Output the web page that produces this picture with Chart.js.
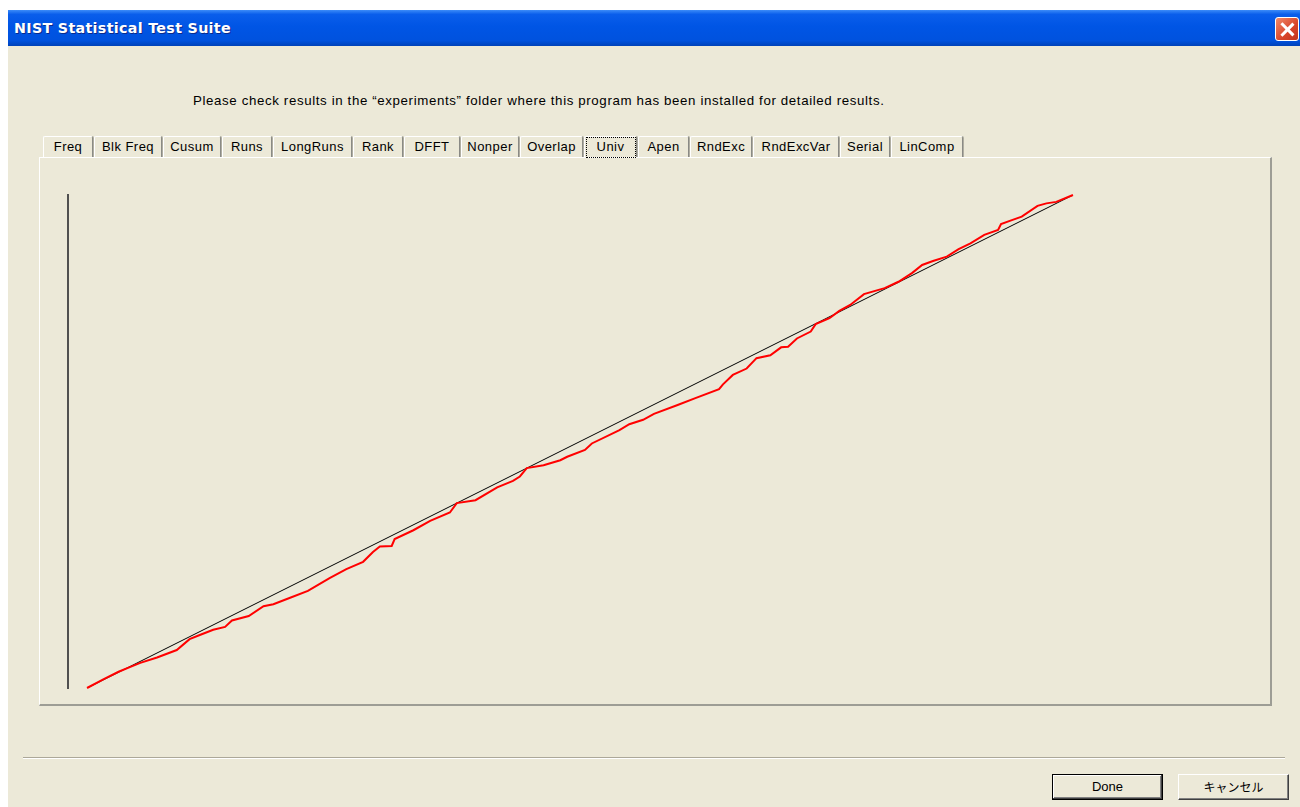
<!DOCTYPE html>
<html>
<head>
<meta charset="utf-8">
<script src="https://cdn.jsdelivr.net/npm/chart.js@4/dist/chart.umd.min.js"></script>
<style>
  html,body{margin:0;padding:0;background:#fff;}
  body{width:1300px;height:807px;position:relative;overflow:hidden;font-family:"Liberation Sans",Arial,sans-serif;}
  #win{position:absolute;left:8px;top:10px;width:1300px;height:797px;background:#ECE9D8;}
  #title{position:absolute;left:8px;top:10px;width:1300px;height:36px;
    background:linear-gradient(#3C8CF8 0%,#0A5EEB 12%,#0055E5 45%,#0052DE 85%,#0042B8 100%);}
  #title span{position:absolute;left:6px;top:10px;color:#fff;font:bold 14.3px "DejaVu Sans",sans-serif;
    text-shadow:1px 1px 0 #0B2A8A;letter-spacing:0.3px;}
  #close{position:absolute;left:1275px;top:17px;width:24px;height:24px;border:1px solid #fff;border-radius:3px;
    background:linear-gradient(135deg,#F08A6A,#D8452A 60%,#C0361E);box-sizing:border-box;}
  #close:before,#close:after{content:"";position:absolute;left:10px;top:3px;width:2.5px;height:17px;background:#fff;}
  #close:before{transform:rotate(45deg);} #close:after{transform:rotate(-45deg);}
  .txt{position:absolute;font-size:13.3px;letter-spacing:0.62px;color:#000;white-space:nowrap;}
  .tab{position:absolute;top:136px;height:21px;box-sizing:border-box;border-left:1px solid #fff;border-top:1px solid #fff;
    border-right:1px solid #8A8A85;box-shadow:1px 0 0 #B0AEA2;border-radius:2px 2px 0 0;background:#ECE9D8;
    font-size:13px;letter-spacing:0.45px;text-align:center;line-height:19px;white-space:nowrap;}
  .tab.sel{z-index:2;}
  .tab.sel:after{content:"";position:absolute;left:1px;top:0px;right:0px;bottom:-1px;border:1px dotted #000;}
  #panel{position:absolute;left:39px;top:157px;width:1233px;height:549px;box-sizing:border-box;
    border-left:1px solid #fff;border-top:1px solid #fff;border-right:2px solid #9D9D95;border-bottom:2px solid #9D9D95;}
  #sep{position:absolute;left:23px;top:757px;width:1262px;height:1px;background:#ACA899;border-bottom:1px solid #fff;}
  .btn{position:absolute;top:774px;height:26px;box-sizing:border-box;background:#ECE9D8;font-size:13px;
    text-align:center;line-height:23px;}
  #done{left:1052px;width:111px;border:1px solid #000;box-shadow:inset -1px -1px 0 #404040,inset 1px 1px 0 #fff,inset -2px -2px 0 #808080;}
  #cancel{left:1178px;width:111px;border-left:1px solid #fff;border-top:1px solid #fff;border-right:1px solid #404040;border-bottom:1px solid #404040;
    box-shadow:inset -1px -1px 0 #808080;font-family:"Noto Sans CJK JP",sans-serif;font-size:12px;}
  #chartwrap{position:absolute;left:40px;top:158px;width:1230px;height:546px;}
</style>
</head>
<body>
<div id="win"></div>
<div id="title"><span>NIST Statistical Test Suite</span></div>
<div id="close"></div>
<div class="txt" id="msg" style="left:193px;top:93px;">Please check results in the “experiments” folder where this program has been installed for detailed results.</div>
<div id="tabs"></div>
<div id="panel"></div>
<div id="chartwrap"><canvas id="c" width="1230" height="546"></canvas></div>
<div id="sep"></div>
<div class="btn" id="done">Done</div>
<div class="btn" id="cancel">キャンセル</div>
<script>
// ---- tab labels ----
const tabLabels = ["Freq","Blk Freq","Cusum","Runs","LongRuns","Rank","DFFT","Nonper","Overlap","Univ","Apen","RndExc","RndExcVar","Serial","LinComp"];
const tabEdges  = [43,94,163,222,273,353,404,461,520,584,638,690,753,840,891,964];
const selectedTab = "Univ";

// ---- chart values (uniform quantile vs observed cumulative proportion) ----
const referenceX = [0, 1];
const referenceY = [0, 1];
const observedX = [0,0.017,0.032,0.044,0.054,0.071,0.091,0.104,0.115,0.128,0.140,0.147,0.164,0.179,0.189,0.206,0.224,0.246,0.263,0.280,0.290,0.297,0.309,0.312,0.331,0.348,0.368,0.375,0.394,0.416,0.432,0.439,0.446,0.463,0.480,0.487,0.505,0.512,0.540,0.550,0.564,0.575,0.599,0.617,0.641,0.645,0.655,0.669,0.679,0.693,0.704,0.711,0.720,0.734,0.739,0.753,0.763,0.774,0.788,0.809,0.823,0.837,0.847,0.858,0.872,0.884,0.896,0.910,0.924,0.927,0.938,0.948,0.964,0.973,0.983,1];
const observedY = [0,0.018,0.033,0.043,0.051,0.062,0.077,0.099,0.108,0.118,0.124,0.137,0.146,0.166,0.170,0.183,0.197,0.223,0.241,0.256,0.276,0.287,0.288,0.302,0.320,0.339,0.356,0.375,0.381,0.407,0.420,0.429,0.446,0.452,0.462,0.469,0.483,0.496,0.523,0.535,0.544,0.556,0.574,0.588,0.606,0.616,0.635,0.648,0.669,0.675,0.691,0.692,0.709,0.723,0.738,0.750,0.765,0.777,0.799,0.811,0.824,0.842,0.858,0.866,0.875,0.890,0.902,0.919,0.929,0.941,0.949,0.956,0.978,0.983,0.986,1];

// build tabs
const tabsEl = document.getElementById('tabs');
tabLabels.forEach((lab,i)=>{
  const d = document.createElement('div');
  d.className = 'tab' + (lab===selectedTab ? ' sel' : '');
  d.style.left = tabEdges[i] + 'px';
  d.style.width = (tabEdges[i+1]-tabEdges[i]-1) + 'px';
  d.textContent = lab;
  tabsEl.appendChild(d);
});

const xMin = -0.0193; // puts the y-axis line left of the plotted range
new Chart(document.getElementById('c'), {
  type: 'line',
  data: {
    datasets: [
      { data: referenceX.map((x,i)=>({x, y: referenceY[i]})), borderColor:'#000', borderWidth:1, pointRadius:0, tension:0, order:2 },
      { data: observedX.map((x,i)=>({x, y: observedY[i]})), borderColor:'#FF0000', borderWidth:2, pointRadius:0, tension:0, order:1, clip:false }
    ]
  },
  options: {
    responsive:false, animation:false, devicePixelRatio:1,
    layout:{ padding:{ left:28, right:197, top:37, bottom:16 } },
    plugins:{ legend:{display:false}, tooltip:{enabled:false} },
    scales:{
      x:{ type:'linear', min:xMin, max:1, display:false },
      y:{ type:'linear', min:0, max:1, display:true,
          grid:{display:false}, ticks:{display:false},
          border:{display:true, color:'#505050', width:2},
          afterFit: s => { s.width = 0; } }
    }
  }
});
</script>
</body>
</html>
